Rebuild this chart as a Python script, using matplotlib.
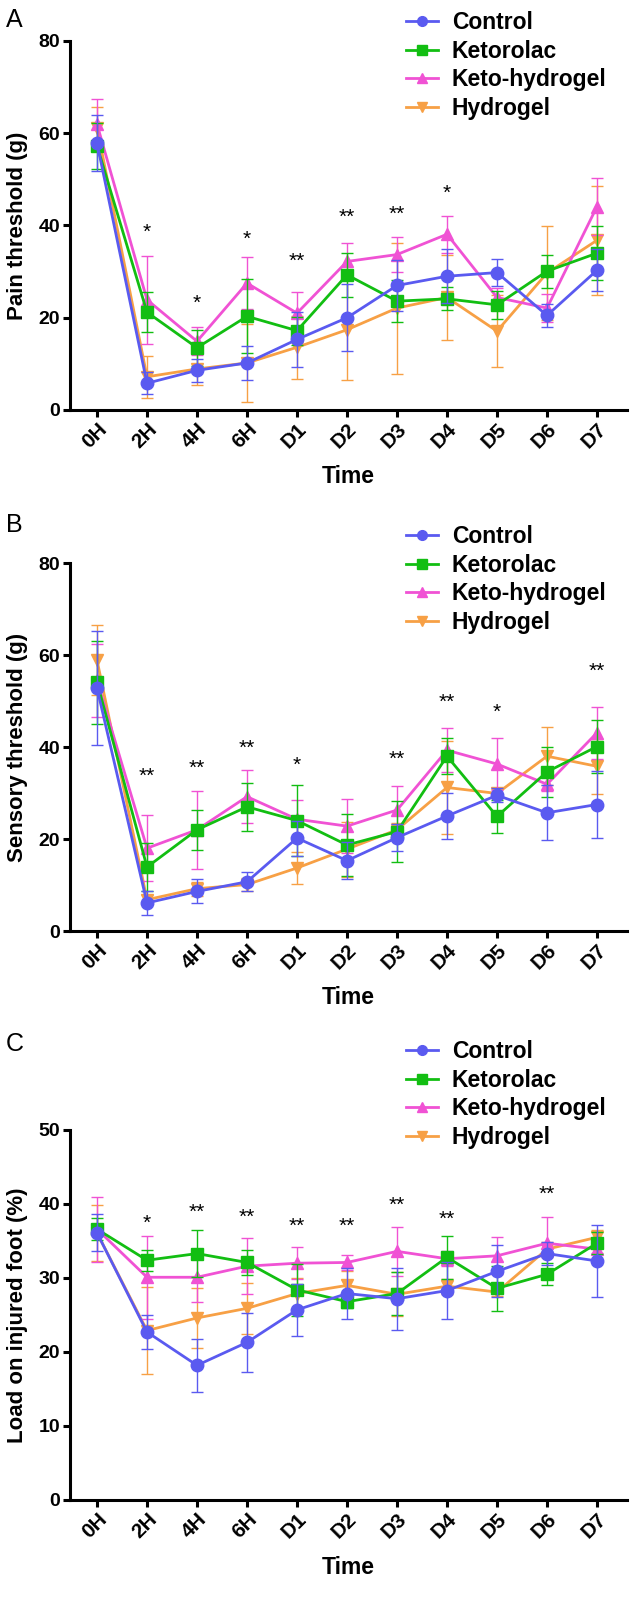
import numpy as np
import matplotlib
matplotlib.use("Agg")
import matplotlib.pyplot as plt
from matplotlib.lines import Line2D

plt.rcParams['font.family'] = ['Liberation Sans', 'DejaVu Sans']

# time points
times = ['0H', '2H', '4H', '6H', 'D1', 'D2', 'D3', 'D4', 'D5', 'D6', 'D7']
groups = ['Control', 'Ketorolac', 'Keto-hydrogel', 'Hydrogel']

# A - pain threshold (g)
pain_control = [57.9, 5.8, 8.6, 10.2, 15.3, 20.0, 27.0, 29.0, 29.8, 20.5, 30.3]
pain_control_err = [6.1, 2.4, 2.5, 3.7, 6.0, 7.3, 5.6, 5.9, 3.0, 2.4, 4.6]
pain_ketorolac = [57.3, 21.2, 13.5, 20.3, 17.2, 29.3, 23.6, 24.1, 22.8, 30.1, 34.0]
pain_ketorolac_err = [5.0, 4.3, 3.9, 8.0, 3.0, 4.7, 4.6, 2.5, 3.0, 3.6, 5.8]
pain_ketohydro = [62.0, 23.9, 14.9, 27.5, 21.0, 32.2, 33.7, 38.1, 24.4, 22.1, 44.1]
pain_ketohydro_err = [5.5, 9.5, 3.0, 5.6, 4.6, 4.0, 3.8, 4.0, 2.0, 3.0, 6.1]
pain_hydro = [61.2, 7.2, 8.9, 10.2, 13.6, 17.4, 22.1, 24.4, 17.1, 29.7, 36.8]
pain_hydro_err = [4.5, 4.6, 3.4, 8.4, 6.8, 10.9, 14.2, 9.3, 7.8, 10.2, 11.8]
pain_stars = ['', '*', '*', '*', '**', '**', '**', '*', '', '', '']
pain_star_y = [0, 39.8, 24.6, 38.3, 33.7, 43.2, 43.7, 48.3, 0, 0, 0]

# B - sensory threshold (g)
sens_control = [52.8, 6.1, 8.6, 10.7, 20.2, 15.3, 20.3, 25.0, 29.5, 25.7, 27.5]
sens_control_err = [12.4, 2.7, 2.6, 2.1, 3.8, 4.1, 3.0, 4.9, 1.5, 6.0, 7.3]
sens_ketorolac = [54.1, 13.9, 22.0, 27.0, 24.0, 18.7, 21.6, 38.0, 24.9, 34.6, 40.1]
sens_ketorolac_err = [9.0, 5.3, 4.3, 5.2, 7.7, 6.8, 6.6, 3.9, 3.6, 5.5, 5.7]
sens_ketohydro = [54.5, 18.0, 22.0, 29.2, 24.3, 22.8, 26.3, 39.3, 36.3, 31.9, 43.1]
sens_ketohydro_err = [8.0, 7.2, 8.5, 5.8, 4.2, 5.8, 5.2, 4.8, 5.6, 1.5, 5.7]
sens_hydro = [58.9, 6.8, 9.2, 10.1, 13.7, 17.8, 22.0, 31.2, 29.9, 38.0, 35.8]
sens_hydro_err = [7.6, 1.0, 1.5, 1.5, 3.5, 6.0, 1.5, 10.1, 1.0, 6.3, 6.0]
sens_stars = ['', '**', '**', '**', '*', '', '**', '**', '*', '', '**']
sens_star_y = [0, 35.0, 36.8, 41.1, 37.3, 0, 38.7, 51.0, 49.0, 0, 57.9]

# C - load on injured foot (%)
load_control = [36.1, 22.7, 18.2, 21.3, 25.7, 27.9, 27.2, 28.3, 30.9, 33.3, 32.3]
load_control_err = [2.5, 2.3, 3.6, 4.0, 3.5, 3.5, 4.2, 3.8, 3.5, 1.5, 4.8]
load_ketorolac = [36.6, 32.4, 33.3, 32.1, 28.4, 26.8, 27.9, 32.8, 28.6, 30.5, 34.7]
load_ketorolac_err = [1.5, 1.4, 3.2, 1.7, 3.5, 0.8, 2.9, 2.9, 3.0, 1.5, 1.5]
load_ketohydro = [36.6, 30.1, 30.1, 31.6, 32.0, 32.1, 33.6, 32.6, 33.0, 34.7, 33.9]
load_ketohydro_err = [4.4, 5.6, 3.3, 3.8, 2.2, 1.0, 3.3, 1.0, 2.5, 3.6, 0.5]
load_hydro = [36.1, 22.9, 24.6, 25.9, 27.9, 29.0, 27.8, 28.9, 28.1, 33.9, 35.5]
load_hydro_err = [3.8, 5.9, 4.0, 3.4, 2.1, 2.0, 3.0, 1.0, 0.5, 1.0, 1.0]
load_stars = ['', '*', '**', '**', '**', '**', '**', '**', '', '**', '']
load_star_y = [0, 38.2, 39.7, 39.1, 37.8, 37.8, 40.7, 38.8, 0, 42.2, 0]

colors = ['#5A5AF0', '#12BE12', '#F052D4', '#F7A045']
markers = ['o', 's', '^', 'v']

W, H = 637, 1599
fig = plt.figure(figsize=(W / 100, H / 100), dpi=100)


def panel(top, bottom, series, errs, ymax, ystep, ylabel, stars, star_y,
          letter, letter_y, leg_top):
    ax = fig.add_axes([70 / W, 1 - bottom / H, 557 / W, (bottom - top) / H])
    x = np.arange(len(times))
    # Hydrogel first so Control ends on top
    for i in [3, 2, 1, 0]:
        ax.errorbar(x, series[i], yerr=errs[i], color=colors[i], marker=markers[i],
                    markersize=9 if i != 1 else 8.5, linewidth=2.0, elinewidth=1.0,
                    capsize=4.5, capthick=1.0, zorder=3 + (3 - i))
    for xi, (s, yv) in enumerate(zip(stars, star_y)):
        if s:
            ax.annotate(s, (xi, yv), xytext=(0, -8.5), textcoords='offset points',
                        ha='center', va='baseline', fontsize=15, zorder=10)
    ax.set_xlim(-0.54, 10.6)
    ax.set_ylim(0, ymax)
    ax.set_yticks(np.arange(0, ymax + 1, ystep))
    ax.set_xticks(x)
    ax.set_xticklabels(times, rotation=45, ha='right', va='top',
                       rotation_mode='anchor', fontweight='bold', fontsize=15)
    for lab in ax.get_yticklabels():
        lab.set_fontweight('bold')
        lab.set_fontsize(14)
    for sp in ['top', 'right']:
        ax.spines[sp].set_visible(False)
    for sp in ['left', 'bottom']:
        ax.spines[sp].set_linewidth(2.2)
    ax.tick_params(width=2.2, length=5, pad=2)
    ax.set_ylabel(ylabel, fontsize=16, fontweight='bold')
    ax.yaxis.set_label_coords(-0.075, 0.5)
    ax.set_xlabel('Time', fontsize=16.5, fontweight='bold')
    ax.xaxis.set_label_coords(0.5, -0.15)
    fig.text(6 / W, 1 - letter_y / H, letter, fontsize=18, va='center', ha='left')

    handles = [Line2D([], [], color=colors[i], marker=markers[i], linewidth=2.0,
                      markersize=7 if i != 1 else 6.5) for i in range(4)]
    ax.legend(handles, groups, loc='upper left',
              bbox_to_anchor=(406 / W, 1 - leg_top / H),
              bbox_transform=fig.transFigure, frameon=False, borderpad=0,
              borderaxespad=0, handlelength=1.4, handletextpad=0.6,
              labelspacing=0.25, prop={'size': 16.5, 'weight': 'bold'})
    return ax


panel(41, 410,
      [pain_control, pain_ketorolac, pain_ketohydro, pain_hydro],
      [pain_control_err, pain_ketorolac_err, pain_ketohydro_err, pain_hydro_err],
      80, 20, 'Pain threshold (g)', pain_stars, pain_star_y, 'A', 20, 11)
panel(563, 931,
      [sens_control, sens_ketorolac, sens_ketohydro, sens_hydro],
      [sens_control_err, sens_ketorolac_err, sens_ketohydro_err, sens_hydro_err],
      80, 20, 'Sensory threshold (g)', sens_stars, sens_star_y, 'B', 525, 525)
panel(1130, 1500,
      [load_control, load_ketorolac, load_ketohydro, load_hydro],
      [load_control_err, load_ketorolac_err, load_ketohydro_err, load_hydro_err],
      50, 10, 'Load on injured foot (%)', load_stars, load_star_y, 'C', 1044, 1040)

fig.savefig('out.png', dpi=100)
